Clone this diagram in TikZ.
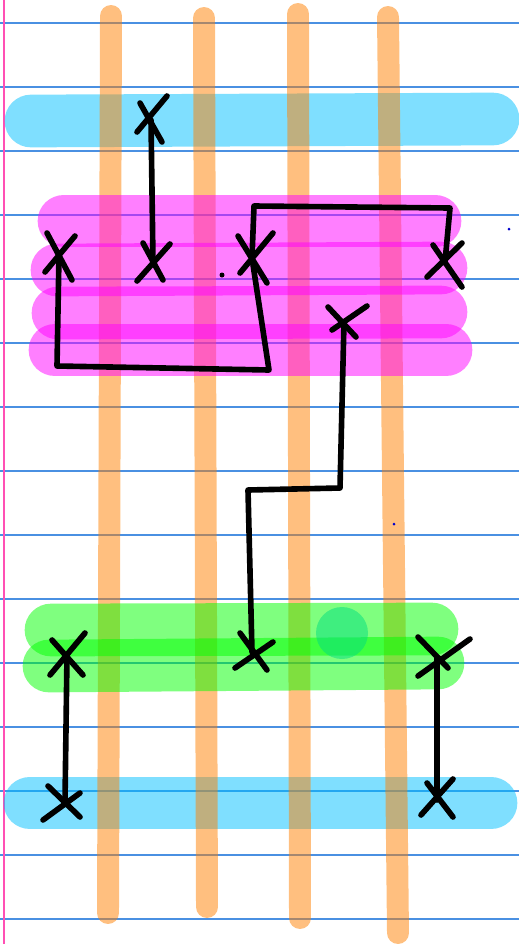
\documentclass[tikz,border=0pt]{standalone}
\definecolor{ruleblue}{RGB}{74,144,226}
\definecolor{marginpink}{RGB}{255,80,180}
\definecolor{bandblue}{RGB}{0,191,255}
\definecolor{barorange}{RGB}{255,128,0}
\definecolor{bandmagenta}{RGB}{255,0,255}
\definecolor{bandgreen}{RGB}{0,255,0}
\definecolor{blobgreen}{RGB}{0,221,128}
\begin{document}
\begin{tikzpicture}[x=0.02cm,y=-0.02cm,
	rule/.style={ruleblue, line width=0.8pt},
	band/.style={line width=30pt, line cap=round, draw opacity=.5},
	bar/.style={barorange, line width=12.5pt, line cap=round, draw opacity=.5},
	pen/.style={black, line width=3.2pt, line cap=round, line join=round}]
	\useasboundingbox (0,0) rectangle (519,944);
	
	\foreach \y in {23,87,...,919}
		\draw[rule] (0,\y) -- (519,\y);
	\draw[marginpink, line width=1.1pt] (4,0) -- (4,944);
	
	\draw[band, draw=bandblue] (31,121) -- (493,119);
	\draw[band, draw=bandblue] (30,803) -- (491,803);
	
	\draw[bar] (111,16) -- (108,913);
	\draw[bar] (204,18) -- (207,907);
	\draw[bar] (298,14) -- (300,918);
	\draw[bar] (388,17) -- (398,933);
	
	\draw[band, draw=bandmagenta] (64,221) -- (435,221);
	\draw[band, draw=bandmagenta] (57,270) -- (441,268);
	\draw[band, draw=bandmagenta] (58,313) -- (441,312);
	\draw[band, draw=bandmagenta] (55,350) -- (446,350);
	
	\draw[band, draw=bandgreen] (51,630) -- (432,629);
	\draw[band, draw=bandgreen] (49,666) -- (438,663);
	\fill[blobgreen, fill opacity=.5] (342,633) circle(26);
	
	\coordinate (x1) at (151,120);
	\coordinate (x2) at (59,255);
	\coordinate (x3) at (153,262);
	\coordinate (x4) at (252,258);
	\coordinate (x5) at (445,262);
	\coordinate (x6) at (344,322);
	\coordinate (x7) at (67,655);
	\coordinate (x8) at (252,652);
	\coordinate (x9) at (437,658);
	\coordinate (x10) at (65,802);
	\coordinate (x11) at (437,800);
	
	\draw[pen] (x1) ++(-11,-17) -- ++(22,39) (x1) ++(16,-24) -- ++(-30,36);
	\draw[pen] (x2) ++(-12,-22) -- ++(25,47) (x2) ++(16,-19) -- ++(-30,36);
	\draw[pen] (x3) ++(-10,-19) -- ++(20,37) (x3) ++(17,-18) -- ++(-33,37);
	\draw[pen] (x4) ++(-14,-22) -- ++(29,47) (x4) ++(21,-25) -- ++(-33,40);
	\draw[pen] (x5) ++(-12,-17) -- ++(29,42) (x5) ++(17,-19) -- ++(-35,34);
	\draw[pen] (x6) ++(-16,-15) -- ++(28,30) (x6) ++(23,-16) -- ++(-35,24);
	\draw[pen] (x7) ++(-15,-15) -- ++(31,35) (x7) ++(18,-22) -- ++(-35,42);
	\draw[pen] (x8) ++(-12,-19) -- ++(27,37) (x8) ++(21,-10) -- ++(-38,26);
	\draw[pen] (x9) ++(-19,-21) -- ++(30,31) (x9) ++(33,-19) -- ++(-52,37);
	\draw[pen] (x10) ++(-17,-16) -- ++(32,31) (x10) ++(15,-9) -- ++(-37,27);
	\draw[pen] (x11) ++(-10,-17) -- ++(26,34) (x11) ++(16,-21) -- ++(-32,36);
	
	\coordinate (b1) at (57,366);
	\coordinate (b2) at (269,370);
	\coordinate (c1) at (254,206);
	\coordinate (c2) at (450,208);
	\coordinate (d1) at (340,488);
	\coordinate (d2) at (248,490);
	
	\draw[pen] (x1) -- (x3);
	\draw[pen] (x2) -- (b1) -- (b2) -- (x4);
	\draw[pen] (x4) -- (c1) -- (c2) -- (x5);
	\draw[pen] (x6) -- (d1) -- (d2) -- (x8);
	\draw[pen] (x7) -- (x10);
	\draw[pen] (x9) -- (x11);
	
	\fill[black] (222,275) circle(2.5);
	\fill[blue!80!black] (509,229) circle(1.5);
	\fill[blue!80!black] (394,524) circle(1.5);
\end{tikzpicture}
\end{document}
